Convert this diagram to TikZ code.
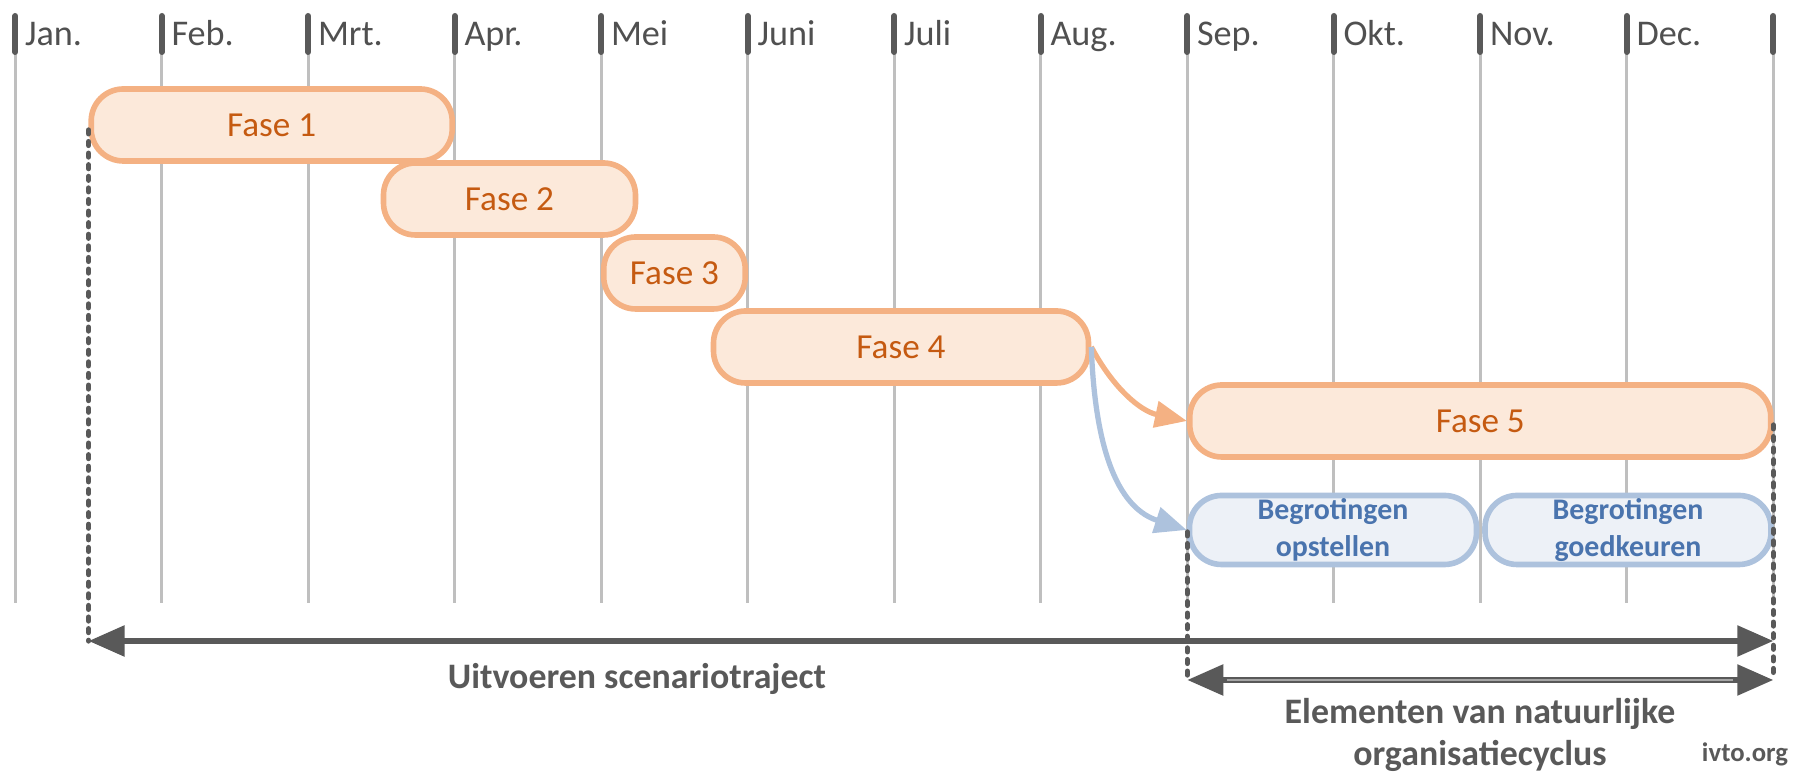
\documentclass[tikz,border=0pt]{standalone}
\usepackage{fontspec}
\setmainfont{Carlito}
\usetikzlibrary{arrows.meta}
\definecolor{gridgrey}{HTML}{BFBFBF}
\definecolor{darkgrey}{HTML}{595959}
\definecolor{monthtext}{HTML}{505050}
\definecolor{orline}{HTML}{F4B183}
\definecolor{orfill}{HTML}{FCE9DA}
\definecolor{ortext}{HTML}{C55A11}
\definecolor{blline}{HTML}{ADC2DD}
\definecolor{blfill}{HTML}{EDF1F7}
\definecolor{bltext}{HTML}{4A74AE}
\definecolor{stripe}{HTML}{A6A6A6}
\begin{document}
\begin{tikzpicture}[x=1cm,y=1cm,
  gridline/.style={draw=gridgrey, line width=0.75pt},
  ticktop/.style={draw=darkgrey, line width=1.7pt, line cap=round},
  monthlbl/.style={anchor=base west, inner sep=0pt, text=monthtext, font=\fontsize{10.3}{12}\selectfont},
  fase/.style={draw=orline, fill=orfill, line width=1.6pt, rounded corners=0.32cm,
    text=ortext, font=\fontsize{10}{12}\selectfont, inner sep=0pt, minimum height=0.72cm},
  begr/.style={draw=blline, fill=blfill, line width=1.6pt, rounded corners=0.32cm,
    text=bltext, font=\bfseries\fontsize{8.5}{10.5}\selectfont, align=center, inner sep=0pt, minimum height=0.69cm},
  dotline/.style={draw=darkgrey, line width=1.5pt, dash pattern=on 1.1pt off 2.2pt, line cap=round},
  bigarrow/.style={draw=darkgrey, line width=1.6pt, {Triangle[length=0.36cm,width=0.3cm]}-{Triangle[length=0.36cm,width=0.3cm]}},
  orarrow/.style={draw=orline, line width=1.5pt, -{Triangle[length=0.32cm,width=0.26cm]}},
  blarrow/.style={draw=blline, line width=1.5pt, -{Triangle[length=0.32cm,width=0.26cm]}},
  lbl/.style={text=darkgrey, font=\bfseries\fontsize{10.2}{12.2}\selectfont, inner sep=0pt},
  small/.style={text=darkgrey, font=\bfseries\fontsize{7.6}{9}\selectfont, inner sep=0pt}
]
\useasboundingbox (0,0) rectangle (18,-7.75);

% month grid
\foreach \i/\m in {0/Jan., 1/Feb., 2/Mrt., 3/Apr., 4/Mei, 5/Juni, 6/Juli, 7/Aug., 8/Sep., 9/Okt., 10/Nov., 11/Dec., 12/{}} {
  \pgfmathsetmacro{\xx}{0.153+1.465*\i}
  \coordinate (t\i) at (\xx,-0.16);
  \coordinate (m\i) at (\xx,-0.52);
  \coordinate (g\i) at (\xx,-6.03);
  \draw[gridline] (m\i) -- (g\i);
  \draw[ticktop] (t\i) -- (m\i);
  \node[monthlbl] (lab\i) at (\xx+0.09,-0.46) {\m};
}

% phase boxes
\node[fase, minimum width=3.61cm] (f1) at (2.717,-1.25) {Fase 1};
\node[fase, minimum width=2.52cm] (f2) at (5.095,-1.99) {Fase 2};
\node[fase, minimum width=1.415cm] (f3) at (6.745,-2.73) {Fase 3};
\node[fase, minimum width=3.75cm] (f4) at (9.01,-3.47) {Fase 4};
\node[fase, minimum width=5.81cm] (f5) at (14.803,-4.21) {Fase 5};
\node[begr, minimum width=2.87cm] (b1) at (13.33,-5.30) {Begrotingen\\opstellen};
\node[begr, minimum width=2.86cm] (b2) at (16.28,-5.30) {Begrotingen\\goedkeuren};

% curved connectors
\draw[orarrow] (f4.east) to[out=-62, in=168] (f5.west);
\draw[blarrow] (f4.east) to[out=-88, in=162] (b1.west);

% dotted guide lines and span arrows
\coordinate (dL1) at (0.886,-1.30);
\coordinate (aL) at (0.886,-6.41);
\coordinate (aR) at (17.733,-6.41);
\coordinate (dS1) at (11.873,-5.32);
\coordinate (cL) at (11.873,-6.80);
\coordinate (dR1) at (17.733,-4.25);
\coordinate (cR) at (17.733,-6.80);
\draw[dotline] (dL1) -- (aL);
\draw[dotline] (dS1) -- (cL);
\draw[dotline] (dR1) -- (cR);

\draw[bigarrow] (aL) -- (aR);
\draw[bigarrow] (cL) -- (cR);
\draw[stripe, line width=0.3pt, shorten <=0.4cm, shorten >=0.4cm] (cL) -- (cR);

% labels
\node[lbl] (uit) at (6.37,-6.79) {Uitvoeren scenariotraject};
\node[lbl, align=center] (elem) at (14.80,-7.35) {Elementen van natuurlijke\\organisatiecyclus};
\node[small] (ivto) at (17.45,-7.54) {ivto.org};
\end{tikzpicture}
\end{document}
